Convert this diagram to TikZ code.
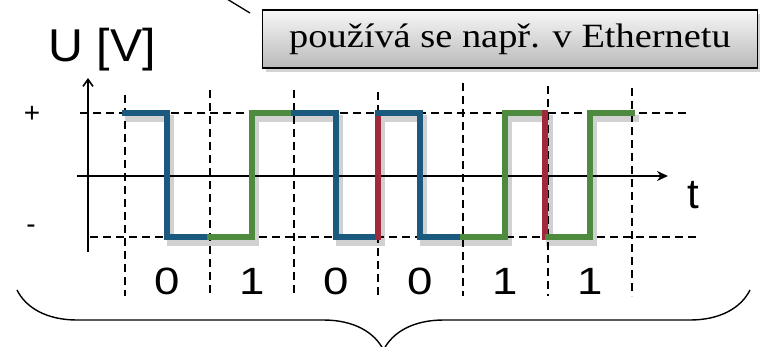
\documentclass[tikz,border=0pt]{standalone}
\usepackage{fontspec}
\setmainfont{Liberation Serif}
\newfontfamily\axisfont{Liberation Sans}
\usepackage{tikz}
\usetikzlibrary{
  calc,positioning,arrows.meta,shadows,decorations.pathreplacing
}
\definecolor{zerobit}{RGB}{27,90,126}
\definecolor{onebit}{RGB}{78,139,63}
\definecolor{edgebit}{RGB}{161,41,59}
\tikzset{
  axis/.style={line width=1.6pt, black},
  grid/.style={line width=1.4pt, dash pattern=on 8pt off 5pt},
  level/.style={line width=6.5pt, line cap=rect, line join=miter},
  levelshadow/.style={line width=7pt, line cap=rect, black, opacity=0.18},
  bitlabel/.style={font=\axisfont\fontsize{38}{38}\selectfont, xscale=1.2, inner sep=0pt},
  note/.style={draw=black, line width=1.3pt, top color=gray!6, bottom color=gray!55,
               minimum width=438pt, minimum height=58pt, inner sep=0pt,
               drop shadow={shadow xshift=3pt, shadow yshift=-4pt, opacity=0.35},
               font=\fontsize{34}{34}\selectfont, xscale=1.13}
}

\begin{document}
\begin{tikzpicture}[x=1pt,y=-1pt]
\clip (0,0) rectangle (760,346);
% grid
\draw[grid] (80,113) -- (688,113);
\draw[grid] (90,237) -- (698,237);
\foreach \xx/\top in {125/95,210/90,294/90,378/92,463/83,548/86,632/88}
  \draw[grid] (\xx,\top) -- (\xx,296);
% axes
\draw[axis,-{Stealth[length=11pt,width=10pt]}] (77,176) -- (668,176);
\draw[axis,-{Straight Barb[length=7pt,width=10pt]}] (88,252) -- (88,78);
\node[font=\axisfont\fontsize{46}{46}\selectfont, xscale=1.05] (ulabel) at (102,50) {U [V]};
\node[font=\axisfont\fontsize{42}{42}\selectfont] (tlabel) at (693,195) {t};
\node[font=\axisfont\fontsize{28}{28}\selectfont] (plus) at (32,114) {+};
\node[font=\axisfont\fontsize{28}{28}\selectfont] (minus) at (31,229) {-};
% signal shadow
\begin{scope}[shift={(3,5)}]
\draw[levelshadow] (125,113) -| (167,237) -| (252,113) -| (336,237) -| (378,113)
  -| (420,237) -| (505,113) -| (546,237) -| (590,113) -- (632,113);
\end{scope}
% signal
\draw[level,zerobit] (125,113) -| (167,237) -- (210,237);
\draw[level,onebit] (210,237) -| (252,113) -- (294,113);
\draw[level,zerobit] (294,113) -| (336,237) -- (378,237);
\draw[level,edgebit] (378,237) -- (378,113);
\draw[level,zerobit] (378,113) -| (420,237) -- (463,237);
\draw[level,onebit] (463,237) -| (505,113) -- (545,113);
\draw[level,edgebit] (545,113) -- (545,237);
\draw[level,onebit] (548,237) -| (590,113) -- (632,113);
% bits
\node[bitlabel] (b1) at (167,281) {0};
\node[bitlabel] (b2) at (252,281) {1};
\node[bitlabel] (b3) at (336,281) {0};
\node[bitlabel] (b4) at (420,281) {0};
\node[bitlabel] (b5) at (505,281) {1};
\node[bitlabel] (b6) at (590,281) {1};
% note
\node[note] (ethernet) at (510,39) {používá se např. v Ethernetu};
\coordinate (pointer) at (227,-1);
\coordinate (pointerend) at (250,13);
\draw[line width=1.3pt] (pointer) -- (pointerend);
% brace
\coordinate (bracel) at (17,290);
\coordinate (bracer) at (750,290);
\draw[line width=1.4pt, decorate, decoration={brace, mirror, amplitude=60pt}] (bracel) -- (bracer);
\end{tikzpicture}
\end{document}
